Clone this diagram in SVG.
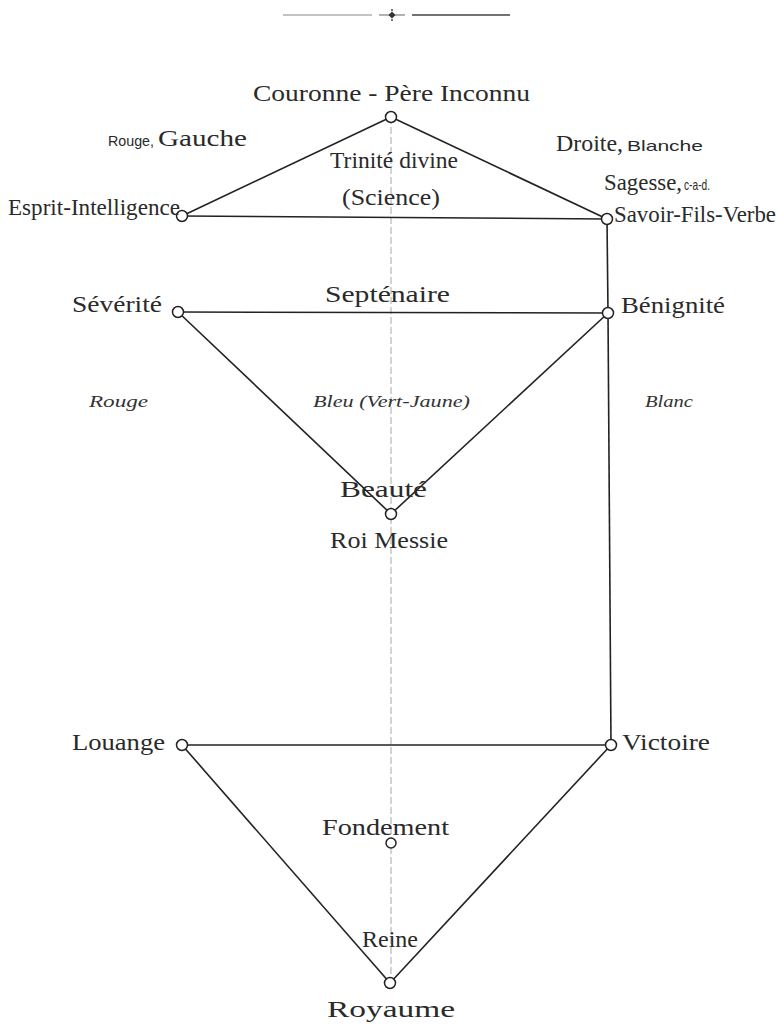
<svg xmlns="http://www.w3.org/2000/svg" width="777" height="1025" viewBox="0 0 777 1025">
<style>
.t{font-family:"Liberation Serif",serif;font-size:23px;fill:#2a2a2a;}
.s{font-family:"Liberation Sans",sans-serif;font-size:15px;fill:#2a2a2a;}
.i{font-family:"Liberation Serif",serif;font-style:italic;font-size:16px;fill:#333;}
.e{stroke:#222;stroke-width:1.6;fill:none;}
.d{stroke:#b0b0b0;stroke-width:1.1;stroke-dasharray:7 3;fill:none;}
.n{fill:#fff;stroke:#222;stroke-width:1.5;}
</style>
<rect width="777" height="1025" fill="#fff"/>
<g id="ornament">
<line x1="283" y1="15" x2="372" y2="15" stroke="#888" stroke-width="1.2"/>
<line x1="412" y1="15" x2="510" y2="15" stroke="#444" stroke-width="1.3"/>
<line x1="379" y1="15" x2="405" y2="15" stroke="#666" stroke-width="1"/>
<rect x="389.5" y="12.5" width="5" height="5" fill="#333" transform="rotate(45 392 15)"/>
<circle cx="392" cy="10" r="0.9" fill="#333"/>
<circle cx="392" cy="20" r="0.9" fill="#333"/>
</g>
<g id="connectors">
<line class="d" x1="391" y1="117" x2="391" y2="983"/>
<line class="e" x1="391" y1="117" x2="182" y2="216"/>
<line class="e" x1="391" y1="117" x2="607" y2="219"/>
<line class="e" x1="182" y1="216" x2="607" y2="219"/>
<line class="e" x1="607" y1="219" x2="608" y2="313"/>
<line class="e" x1="608" y1="313" x2="611" y2="745"/>
<line class="e" x1="178" y1="312" x2="608" y2="313"/>
<line class="e" x1="178" y1="312" x2="391" y2="514"/>
<line class="e" x1="608" y1="313" x2="391" y2="514"/>
<line class="e" x1="182" y1="745" x2="611" y2="745"/>
<line class="e" x1="182" y1="745" x2="390" y2="983"/>
<line class="e" x1="611" y1="745" x2="390" y2="983"/>
</g>
<g id="couronne"><circle class="n" cx="391" cy="117" r="5.5"/><text class="t" x="253" y="101" textLength="277" lengthAdjust="spacingAndGlyphs">Couronne - Père Inconnu</text></g>
<g id="esprit"><circle class="n" cx="182" cy="216" r="5.5"/><text class="t" x="8" y="215" textLength="172" lengthAdjust="spacingAndGlyphs">Esprit-Intelligence</text></g>
<g id="savoir"><circle class="n" cx="607" cy="219" r="5.5"/><text class="t" x="614" y="222" font-size="22" textLength="162" lengthAdjust="spacingAndGlyphs">Savoir-Fils-Verbe</text>
<text class="t" x="604" y="190" font-size="22" textLength="78" lengthAdjust="spacingAndGlyphs">Sagesse,</text><text class="s" x="684" y="190" font-size="12" textLength="26" lengthAdjust="spacingAndGlyphs">c-a-d.</text></g>
<g id="severite"><circle class="n" cx="178" cy="312" r="5.5"/><text class="t" x="72" y="312" textLength="90" lengthAdjust="spacingAndGlyphs">Sévérité</text></g>
<g id="benignite"><circle class="n" cx="608" cy="313" r="5.5"/><text class="t" x="621" y="313" textLength="104" lengthAdjust="spacingAndGlyphs">Bénignité</text></g>
<g id="beaute"><circle class="n" cx="391" cy="514" r="5.5"/><text class="t" x="340" y="497" textLength="87" lengthAdjust="spacingAndGlyphs">Beauté</text><text class="t" x="330" y="548" textLength="118" lengthAdjust="spacingAndGlyphs">Roi Messie</text></g>
<g id="louange"><circle class="n" cx="182" cy="745" r="5.5"/><text class="t" x="72" y="750" textLength="93" lengthAdjust="spacingAndGlyphs">Louange</text></g>
<g id="victoire"><circle class="n" cx="611" cy="745" r="5.5"/><text class="t" x="622" y="750" textLength="88" lengthAdjust="spacingAndGlyphs">Victoire</text></g>
<g id="fondement"><circle class="n" cx="391" cy="843" r="5"/><text class="t" x="322" y="835" textLength="127" lengthAdjust="spacingAndGlyphs">Fondement</text></g>
<g id="royaume"><circle class="n" cx="390" cy="983" r="5.5"/><text class="t" x="362" y="947" textLength="56" lengthAdjust="spacingAndGlyphs">Reine</text><text class="t" x="327" y="1017" textLength="128" lengthAdjust="spacingAndGlyphs">Royaume</text></g>
<g id="labels">
<text class="s" x="108" y="146" textLength="46" lengthAdjust="spacingAndGlyphs">Rouge,</text><text class="t" x="158" y="146" textLength="89" lengthAdjust="spacingAndGlyphs">Gauche</text>
<text class="t" x="556" y="151" textLength="67" lengthAdjust="spacingAndGlyphs">Droite,</text><text class="s" x="627" y="151" textLength="76" lengthAdjust="spacingAndGlyphs">Blanche</text>
<text class="t" x="330" y="168" textLength="128" lengthAdjust="spacingAndGlyphs">Trinité divine</text>
<text class="t" x="342" y="205" textLength="98" lengthAdjust="spacingAndGlyphs">(Science)</text>
<text class="t" x="325" y="302" textLength="125" lengthAdjust="spacingAndGlyphs">Septénaire</text>
<text class="i" x="89" y="407" textLength="59" lengthAdjust="spacingAndGlyphs">Rouge</text>
<text class="i" x="313" y="407" textLength="157" lengthAdjust="spacingAndGlyphs">Bleu (Vert-Jaune)</text>
<text class="i" x="645" y="407" textLength="48" lengthAdjust="spacingAndGlyphs">Blanc</text>
</g>
</svg>
